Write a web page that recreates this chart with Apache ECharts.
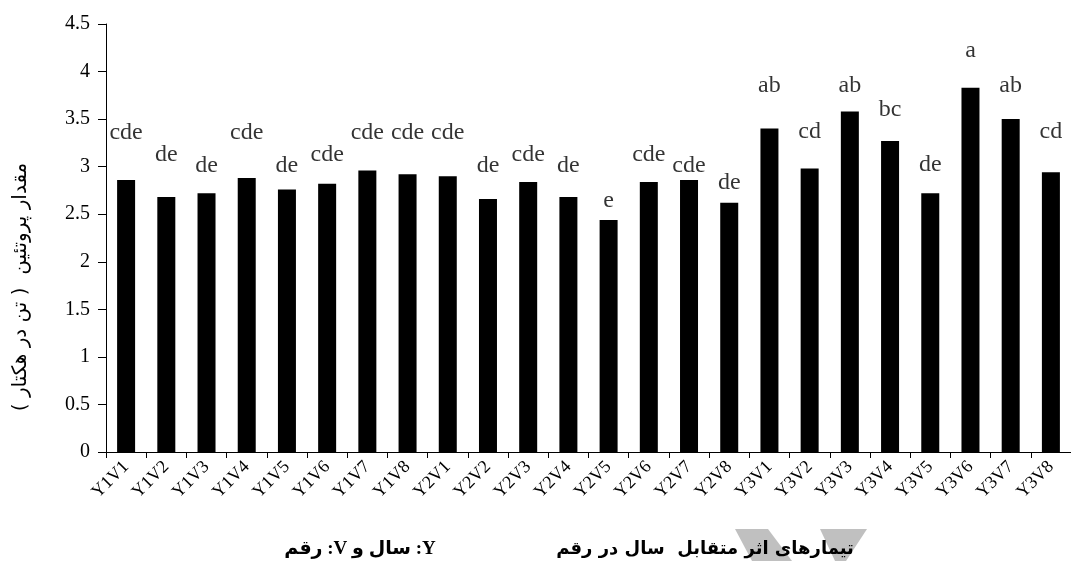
<!DOCTYPE html>
<html>
<head>
<meta charset="utf-8">
<script src="https://cdn.jsdelivr.net/npm/echarts@6/dist/echarts.min.js"></script>
<style>
html,body{margin:0;padding:0;background:#fff;}
#chart{width:1071px;height:561px;}
</style>
</head>
<body>
<div id="chart"></div>
<script>
// ---- data ----
var categories = ['Y1V1','Y1V2','Y1V3','Y1V4','Y1V5','Y1V6','Y1V7','Y1V8',
                  'Y2V1','Y2V2','Y2V3','Y2V4','Y2V5','Y2V6','Y2V7','Y2V8',
                  'Y3V1','Y3V2','Y3V3','Y3V4','Y3V5','Y3V6','Y3V7','Y3V8'];
var protein = [2.86, 2.68, 2.72, 2.88, 2.76, 2.82, 2.96, 2.92,
               2.90, 2.66, 2.84, 2.68, 2.44, 2.84, 2.86, 2.62,
               3.40, 2.98, 3.58, 3.27, 2.72, 3.83, 3.50, 2.94];
var letters = ['cde','de','de','cde','de','cde','cde','cde',
               'cde','de','cde','de','e','cde','cde','de',
               'ab','cd','ab','bc','de','a','ab','cd'];
// hidden error-bar tops on which the significance letters sit
var errorTop = [3.23, 3.00, 2.88, 3.23, 2.88, 3.00, 3.23, 3.23,
                3.23, 2.88, 3.00, 2.88, 2.52, 3.00, 2.88, 2.70,
                3.73, 3.24, 3.73, 3.47, 2.89, 4.09, 3.73, 3.24];
var yTicks = {min: 0, max: 4.5, interval: 0.5};
var yTitle = 'مقدار پروتئین  ( تن در هکتار )';
var noteLeft = 'Y: سال و V: رقم';
var noteRight = 'تیمارهای اثر متقابل  سال در رقم';

var RLE = '\u202B', PDF = '\u202C';
var serif = '"Liberation Serif", "Times New Roman", serif';

var chart = echarts.init(document.getElementById('chart'), null, {renderer: 'canvas'});
chart.setOption({
  animation: false,
  backgroundColor: '#ffffff',
  grid: {left: 106, top: 24, right: -9, bottom: 109, containLabel: false},
  xAxis: {
    type: 'category',
    data: categories,
    boundaryGap: true,
    axisLine: {lineStyle: {color: '#000', width: 1}},
    axisTick: {show: true, length: 6, lineStyle: {color: '#000'}, alignWithLabel: false},
    axisLabel: {rotate: 45, interval: 0, margin: 12, color: '#000', fontFamily: serif, fontSize: 18}
  },
  yAxis: {
    type: 'value',
    min: yTicks.min, max: yTicks.max, interval: yTicks.interval,
    axisLine: {show: true, lineStyle: {color: '#000', width: 1}},
    axisTick: {show: true, length: 8, lineStyle: {color: '#000'}},
    splitLine: {show: false},
    axisLabel: {margin: 16, color: '#000', fontFamily: serif, fontSize: 20}
  },
  series: [
    {
      type: 'bar',
      data: protein,
      barWidth: 18,
      itemStyle: {color: '#000'},
      z: 2
    },
    {
      type: 'scatter',
      data: errorTop,
      symbolSize: 0,
      itemStyle: {color: 'rgba(0,0,0,0)'},
      label: {
        show: true,
        position: 'top',
        distance: 0,
        color: '#000',
        fontFamily: serif,
        fontSize: 24,
        formatter: function (p) { return letters[p.dataIndex]; }
      },
      z: 3
    }
  ],
  graphic: [
    {type: 'text', z: 5, x: 21, y: 287, rotation: Math.PI / 2,
     style: {text: RLE + yTitle + PDF, fill: '#000', font: '20px "DejaVu Sans", sans-serif', align: 'center', verticalAlign: 'middle'}},
    {type: 'polygon', z: 1, shape: {points: [[735,529],[768,529],[792,561],[752,561]]}, style: {fill: '#c0c0c0'}},
    {type: 'polygon', z: 1, shape: {points: [[820,529],[867,529],[846,561],[835,561]]}, style: {fill: '#c0c0c0'}},
    {type: 'text', z: 5, x: 360, y: 549,
     style: {text: RLE + noteLeft + PDF, fill: '#000', font: 'bold 19px "Liberation Serif", "DejaVu Sans", serif', align: 'center', verticalAlign: 'middle'}},
    {type: 'text', z: 5, x: 705, y: 549,
     style: {text: RLE + noteRight + PDF, fill: '#000', font: 'bold 18px "DejaVu Sans", sans-serif', align: 'center', verticalAlign: 'middle'}}
  ]
});
</script>
</body>
</html>
